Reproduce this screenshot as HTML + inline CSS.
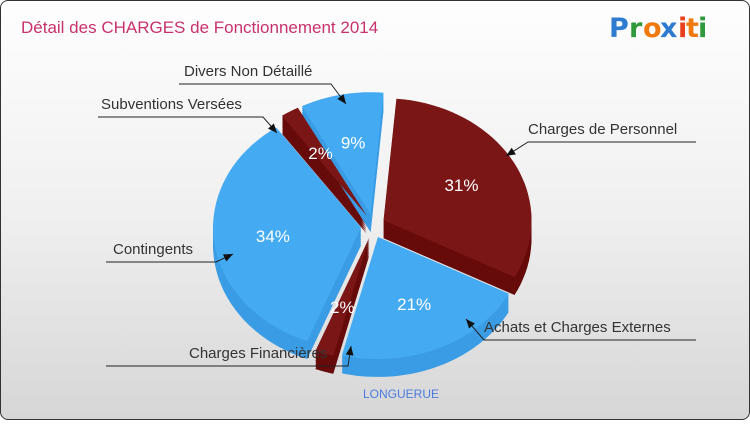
<!DOCTYPE html>
<html><head><meta charset="utf-8"><style>
body{margin:0;width:750px;height:420px;overflow:hidden;font-family:"Liberation Sans",sans-serif}
#c{position:absolute;left:0;top:0;width:748px;height:418px;border:1px solid #333;border-radius:8px;background:linear-gradient(#fefefe,#f0f0f0 50%,#d6d6d6)}
</style></head><body>
<div id="c">
<svg width="750" height="420" id="svg">
<text x="20" y="32" font-size="17" fill="#c8326e">Détail des CHARGES de Fonctionnement 2014</text>
<g font-size="27" font-family="'DejaVu Sans',sans-serif" font-weight="bold">
<text x="608" y="36" fill="#2e7bd0">P</text><text x="628" y="36" fill="#2e9a3a">r</text><text x="642" y="36" fill="#f07a10">o</text><text x="659" y="36" fill="#2e7bd0">x</text><text x="677" y="36" fill="#e8401e">i</text><text x="685" y="36" fill="#f07a10">t</text><text x="697" y="36" fill="#2e9a3a">i</text></g>
<text x="400" y="397" font-size="12" fill="#4a7be0" text-anchor="middle">LONGUERUE</text>
<g id="slices"></g>
<g id="labels" font-size="15" fill="#333" stroke="none"></g>
</svg></div>
<script>
const categories=["Charges de Personnel","Achats et Charges Externes","Charges Financières","Contingents","Subventions Versées","Divers Non Détaillé"];
const values=[31,21,2,34,2,9];
const isRed=[true,false,true,false,true,false];
const NS="http://www.w3.org/2000/svg";
const cx=372,cy=225,rx=148,ry=122,depth=18,expl=12,start=5;
const g=document.getElementById('slices');
const total=values.reduce((a,b)=>a+b,0);
function pt(a,r,ox,oy,dy){const t=a*Math.PI/180;return [ox+r*rx*Math.sin(t),oy-r*ry*Math.cos(t)+dy];}
function path(a0,a1,ox,oy,dy){let d=`M${ox},${oy+dy}`;for(let a=a0;a<=a1+0.001;a+=(a1-a0)/40||1){const p=pt(a,1,ox,oy,dy);d+=`L${p[0].toFixed(1)},${p[1].toFixed(1)}`;}return d+'Z';}
let a=start;const geo=[];
values.forEach((v,i)=>{const sw=v/total*360;const mid=a+sw/2;const t=mid*Math.PI/180;
const ox=cx+expl*Math.sin(t),oy=cy-expl*Math.cos(t);geo.push({a0:a,a1:a+sw,ox,oy,mid,i});a+=sw;});
geo.forEach(s=>{for(let k=depth;k>0;k-=2){const p=document.createElementNS(NS,'path');
p.setAttribute('d',path(s.a0,s.a1,s.ox,s.oy,k));p.setAttribute('fill',isRed[s.i]?'#660a0a':'#3a9ce4');


g.appendChild(p);}});
geo.forEach(s=>{const p=document.createElementNS(NS,'path');
p.setAttribute('d',path(s.a0,s.a1,s.ox,s.oy,0));p.setAttribute('fill',isRed[s.i]?'#7a1616':'#44abf3');


g.appendChild(p);
const q=pt(s.mid,0.6,s.ox,s.oy,0);const tx=document.createElementNS(NS,'text');
tx.setAttribute('x',q[0]);tx.setAttribute('y',q[1]+6);tx.setAttribute('text-anchor','middle');
tx.setAttribute('font-size','17');tx.setAttribute('fill','#fff');tx.textContent=values[s.i]+'%';


g.appendChild(tx);});
const labelDefs=[
["Charges de Personnel",527,133,"M695,141L527,141L505,155"],
["Achats et Charges Externes",483,331,"M695,339L483,339L465,318"],
["Charges Financières",188,357,"M105,365L347,365L350,345"],
["Contingents",112,253,"M105,261L215,261L232,253"],
["Subventions Versées",100,108,"M97,116L262,116L276,132"],
["Divers Non Détaillé",183,75,"M178,83L330,83L345,103"]];
const L=document.getElementById('labels');
labelDefs.forEach((d,i)=>{const t=document.createElementNS(NS,'text');t.setAttribute('x',d[1]);t.setAttribute('y',d[2]);t.textContent=d[0];


L.appendChild(t);
const p=document.createElementNS(NS,'path');p.setAttribute('d',d[3]);p.setAttribute('stroke','#222');p.setAttribute('fill','none');


L.appendChild(p);
const m=d[3].match(/[-\d.]+/g).map(Number);const n=m.length;const x2=m[n-2],y2=m[n-1],x1=m[n-4],y1=m[n-3];
const an=Math.atan2(y2-y1,x2-x1);const h=document.createElementNS(NS,'path');
const b1=[x2-10*Math.cos(an-0.4),y2-10*Math.sin(an-0.4)],b2=[x2-10*Math.cos(an+0.4),y2-10*Math.sin(an+0.4)];
h.setAttribute('d',`M${x2},${y2}L${b1}L${b2}Z`);h.setAttribute('fill','#111');


L.appendChild(h);});
</script>
</body></html>
